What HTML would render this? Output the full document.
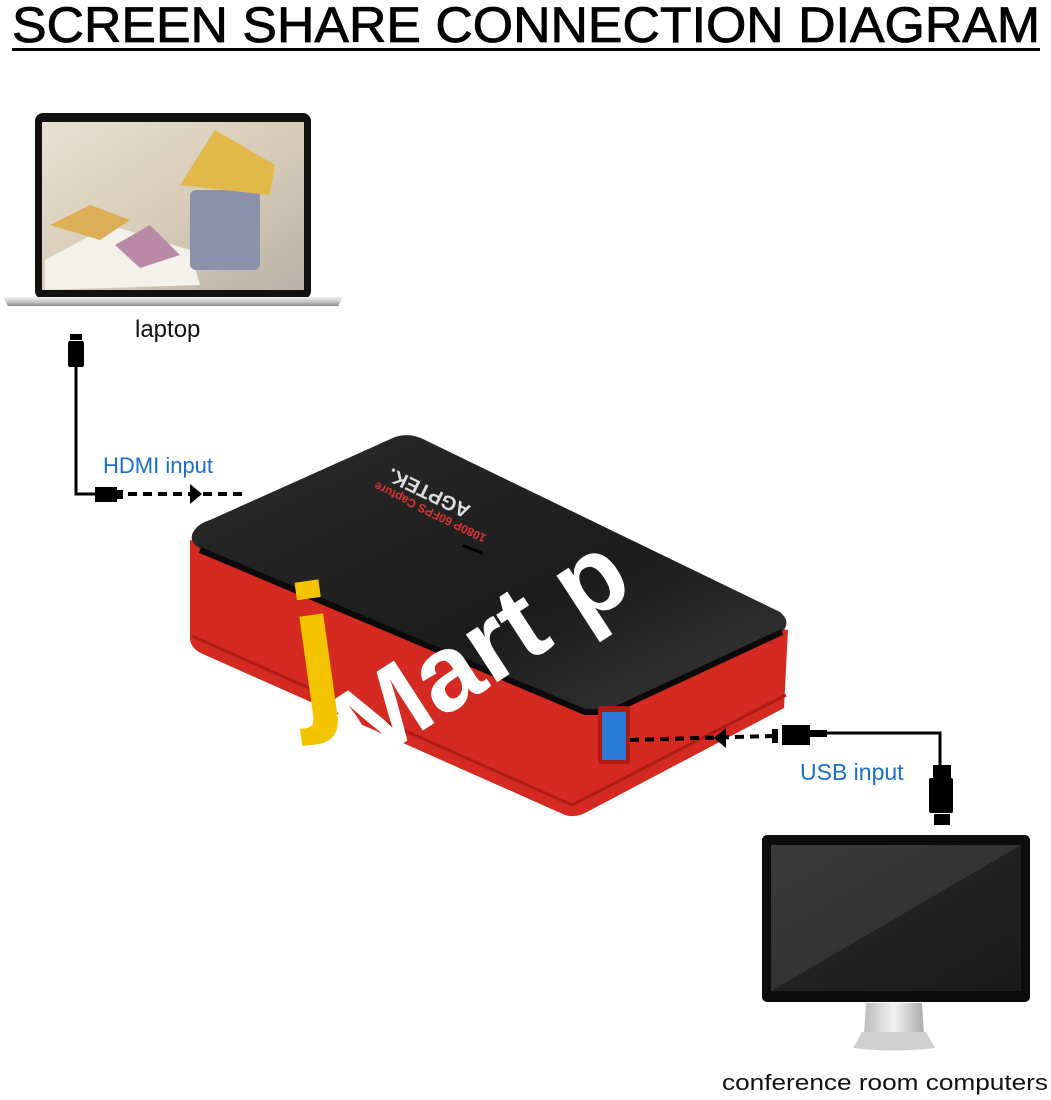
<!DOCTYPE html>
<html><head><meta charset="utf-8"><style>
html,body{margin:0;padding:0;background:#fff;}
svg{display:block}
text{font-family:"Liberation Sans",Arial,sans-serif}
</style></head><body>
<svg width="1051" height="1100" viewBox="0 0 1051 1100" xmlns="http://www.w3.org/2000/svg">
<defs>
<linearGradient id="scr" x1="0" y1="0" x2="1" y2="1">
<stop offset="0" stop-color="#e8e0cf"/><stop offset="0.5" stop-color="#d8cdb8"/><stop offset="1" stop-color="#b9b2a8"/>
</linearGradient>
<linearGradient id="base" x1="0" y1="0" x2="0" y2="1">
<stop offset="0" stop-color="#f2f2f2"/><stop offset="0.5" stop-color="#c9c9c9"/><stop offset="1" stop-color="#8a8a8a"/>
</linearGradient>
<linearGradient id="mon" x1="0" y1="0" x2="1" y2="1">
<stop offset="0" stop-color="#3a3a3a"/><stop offset="0.5" stop-color="#333"/><stop offset="0.5" stop-color="#222"/><stop offset="1" stop-color="#1a1a1a"/>
</linearGradient>
<linearGradient id="neck" x1="0" y1="0" x2="1" y2="0">
<stop offset="0" stop-color="#bbb"/><stop offset="0.5" stop-color="#f2f2f2"/><stop offset="1" stop-color="#aaa"/>
</linearGradient>
<linearGradient id="top" x1="0" y1="0" x2="1" y2="1">
<stop offset="0" stop-color="#2a2a2a"/><stop offset="0.6" stop-color="#1c1c1c"/><stop offset="1" stop-color="#3a3a3a"/>
</linearGradient>
</defs>

<!-- title -->
<text x="12" y="42" font-size="50" textLength="1028" lengthAdjust="spacingAndGlyphs" fill="#000" stroke="#000" stroke-width="0.8">SCREEN SHARE CONNECTION DIAGRAM</text>
<rect x="12" y="48" width="1028" height="3" fill="#000"/>

<!-- laptop -->
<rect x="35" y="113" width="276" height="186" rx="8" fill="#111"/>
<rect x="42" y="122" width="262" height="168" fill="url(#scr)"/>
<path d="M45 260 L110 225 L190 250 L200 285 L45 290 Z" fill="#f4f0ea"/>
<rect x="190" y="190" width="70" height="80" rx="6" fill="#8b91a8"/>
<path d="M180 185 L215 130 L275 165 L270 195 Z" fill="#e2b84a"/>
<path d="M50 225 L90 205 L130 220 L100 240 Z" fill="#dcae55"/>
<path d="M115 245 L150 225 L180 255 L140 268 Z" fill="#b98aa8"/>
<path d="M3 297 L343 297 L338 306 L8 306 Z" fill="url(#base)"/>
<text x="135" y="337" font-size="24" fill="#111">laptop</text>

<!-- HDMI cable -->
<rect x="70" y="334" width="12" height="6" fill="#000"/>
<rect x="68" y="341" width="16" height="26" rx="2" fill="#000"/>
<path d="M76 367 V494 H96" stroke="#000" stroke-width="3" fill="none"/>
<rect x="95" y="487" width="22" height="15" fill="#000"/>
<rect x="117" y="490" width="6" height="9" fill="#000"/>
<line x1="128" y1="494" x2="246" y2="494" stroke="#000" stroke-width="4" stroke-dasharray="9,6"/>
<path d="M190 484 L202 494 L190 504 Z" fill="#000"/>
<text x="103" y="473" font-size="22" fill="#1a6fc9">HDMI input</text>

<!-- capture device -->
<path d="M190 540 L190 640 Q192 650 205 655 L565 815 Q575 818 585 813 L784 708 L788 630 Z" fill="#d42a22"/>
<path d="M192 636 L572 805 L786 695" stroke="#b01c15" stroke-width="3" fill="none"/>
<path d="M192 535 Q195 525 210 520 L395 437 Q410 432 425 440 L780 612 Q792 622 782 632 L610 712 Q595 718 580 710 L200 548 Q190 543 192 535 Z" fill="url(#top)"/>
<path d="M200 550 L585 712 L610 712 L782 632" stroke="#0a0a0a" stroke-width="6" fill="none"/>
<rect x="598" y="706" width="32" height="58" rx="3" fill="#b01a10"/>
<rect x="602" y="712" width="24" height="48" fill="#2a7ad8"/>
<rect x="462" y="548" width="22" height="3" rx="1.5" fill="#000" transform="rotate(22 473 549)"/>
<text x="400" y="470" font-size="20" font-weight="bold" fill="#ddd" transform="rotate(206 440 480)">AGPTEK.</text>
<text x="420" y="480" font-size="12" font-weight="bold" fill="#d33" transform="rotate(206 460 500)">1080P 60FPS Capture</text>
<!-- watermark -->
<text x="0" y="0" font-size="108" font-weight="bold" fill="#fff" transform="translate(365,768) rotate(-33)">Mart p</text>
<text x="0" y="0" font-size="175" font-weight="bold" fill="#f5c400" transform="translate(300,710) rotate(-8)">j</text>

<!-- USB cable -->
<line x1="630" y1="740" x2="772" y2="736" stroke="#000" stroke-width="4" stroke-dasharray="9,6"/>
<path d="M726 728 L714 738 L726 748 Z" fill="#000"/>
<rect x="772" y="729" width="6" height="14" fill="#000"/>
<rect x="782" y="725" width="28" height="20" fill="#000"/>
<rect x="810" y="730" width="17" height="7" fill="#000"/>
<path d="M826 733 H940 V766" stroke="#000" stroke-width="3" fill="none"/>
<rect x="933" y="765" width="18" height="14" fill="#000"/>
<rect x="929" y="778" width="24" height="35" rx="2" fill="#000"/>
<rect x="934" y="814" width="16" height="11" fill="#000"/>
<text x="800" y="780" font-size="23" fill="#1a6fc9">USB input</text>

<!-- monitor -->
<rect x="762" y="835" width="268" height="167" rx="5" fill="#0c0c0c"/>
<rect x="771" y="845" width="250" height="146" fill="url(#mon)"/>
<path d="M866 1003 L922 1003 L924 1035 L864 1035 Z" fill="url(#neck)"/>
<path d="M862 1032 L926 1032 L935 1048 Q895 1053 853 1048 Z" fill="#d0d0d0"/>
<text x="722" y="1090" font-size="22" fill="#111" textLength="326" lengthAdjust="spacingAndGlyphs">conference room computers</text>
</svg>
</body></html>
